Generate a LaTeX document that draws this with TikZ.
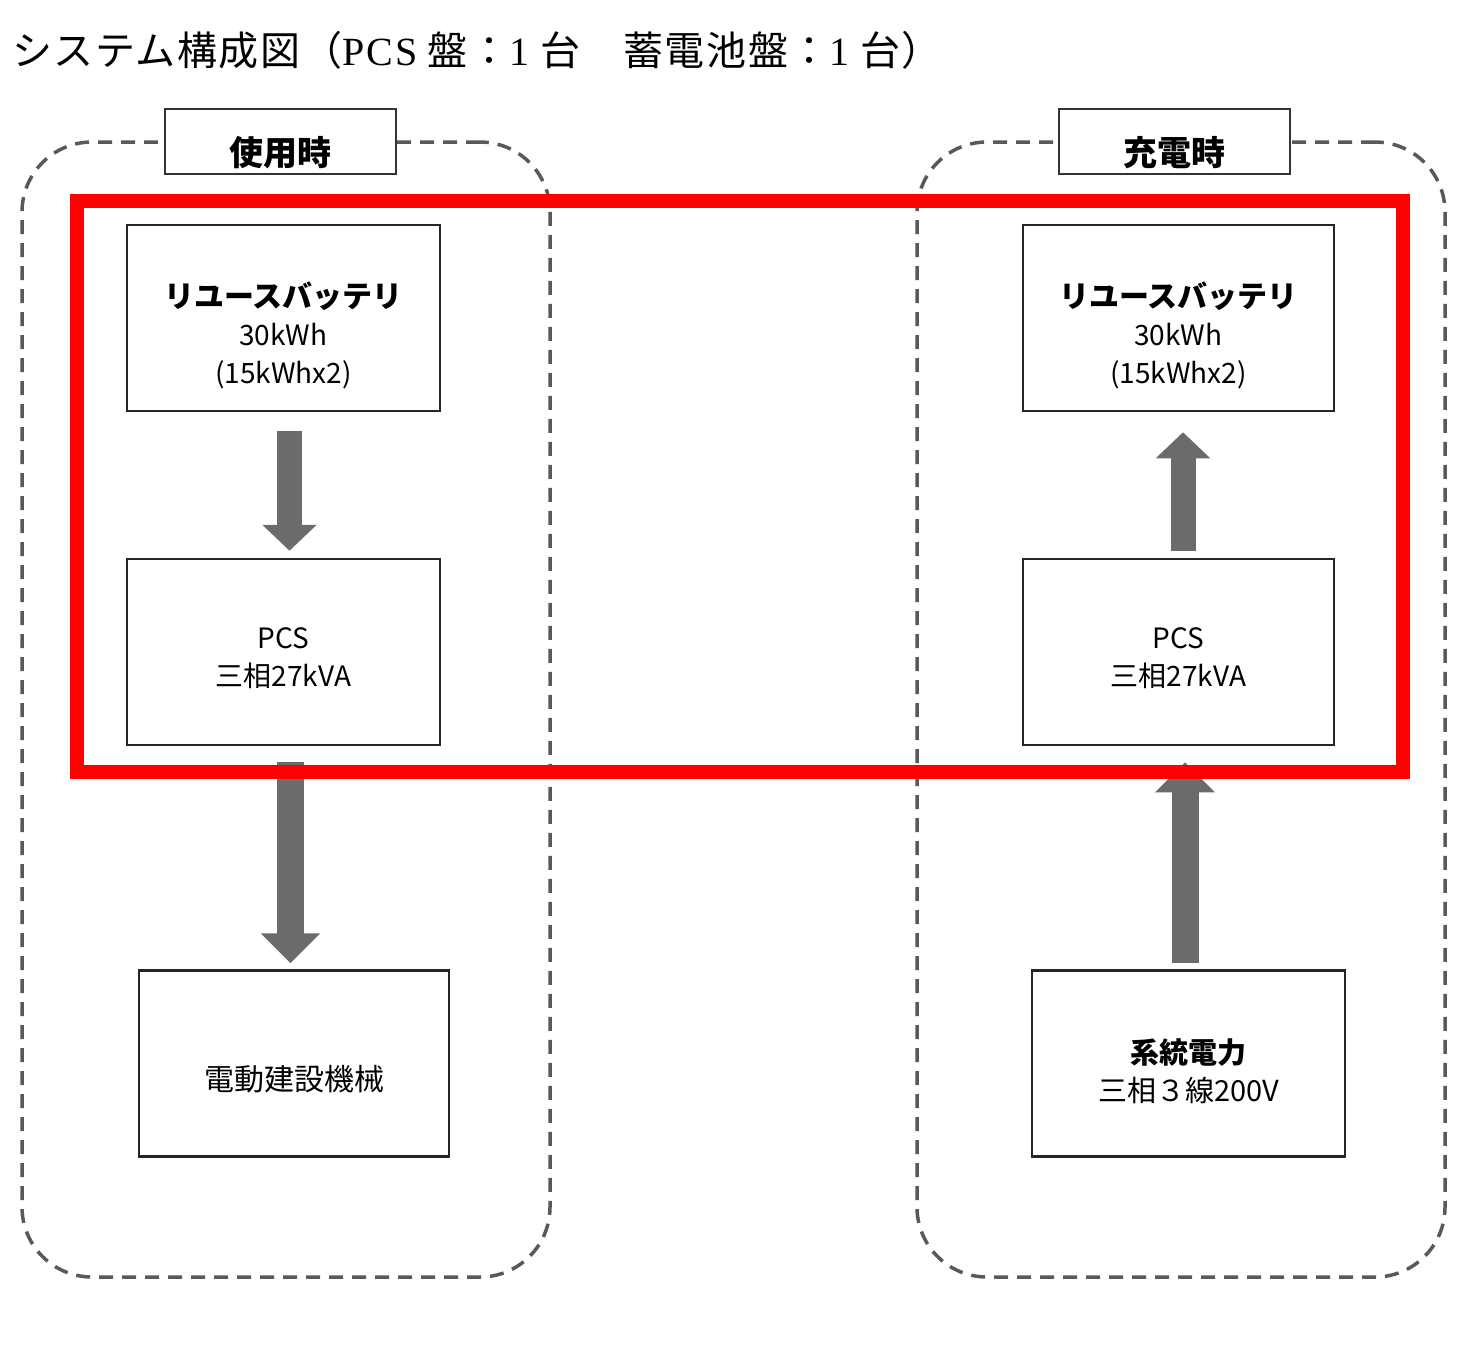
\documentclass[tikz,border=0pt]{standalone}
\usepackage{fontspec}
\setmainfont{Noto Sans CJK JP}
\newfontfamily\serifl[LetterSpace=5]{Liberation Serif}
\usetikzlibrary{arrows.meta}
\newcommand{\topgap}[1]{\rule{0pt}{#1}}
\begin{document}
\begin{tikzpicture}[x=1pt,y=-1pt,
  box/.style={draw=black!85, line width=2.5pt, fill=white, minimum width=313pt, minimum height=186pt, inner sep=0pt, align=center, font=\fontsize{28}{38}\selectfont},
  grp/.style={draw=black!65, line width=3.5pt, dash pattern=on 14pt off 9pt, rounded corners=70pt, minimum width=528pt, minimum height=1135pt, inner sep=0pt},
  lbl/.style={draw=black!80, line width=2pt, fill=white, minimum width=231pt, minimum height=65pt, inner sep=0pt, font=\fontsize{34}{34}\selectfont\bfseries},
  flowa/.style={line width=25pt, draw=black!58, -{Triangle[width=53pt,length=26pt]}},
  flowb/.style={line width=27pt, draw=black!58, -{Triangle[width=58pt,length=30pt]}},
  redframe/.style={draw=red, line width=14pt, minimum width=1326pt, minimum height=571pt, inner sep=0pt}]
\useasboundingbox (0,0) rectangle (1464,1350);

% title
\node[anchor=west, inner sep=0pt, font=\fontsize{40}{40}\selectfont\addfontfeatures{LetterSpace=4}] (title) at (12,50)
  {システム構成図（{\serifl PCS} 盤：{\serifl 1} 台　蓄電池盤：{\serifl 1} 台）};

% groups
\node[grp] (lgrp) at (286,709.5) {};
\node[grp] (rgrp) at (1181,709.5) {};
\node[lbl] (luse) at (280,141.5) {\topgap{52pt}使用時};
\node[lbl] (rchg) at (1174.5,141.5) {\topgap{52pt}充電時};

% left column
\node[box] (lbat) at (283.5,318) {\topgap{60pt}{\fontsize{30}{38}\selectfont\bfseries リユースバッテリ}\\30kWh\\(15kWhx2)};
\node[box] (lpcs) at (283.5,652) {\topgap{33pt}PCS\\三相27kVA};
\node[box, minimum width=310pt, font=\fontsize{30}{38}\selectfont] (lmach) at (294,1063.5) {\topgap{56pt}電動建設機械};

% right column
\node[box, minimum width=311pt] (rbat) at (1178.5,318) {\topgap{60pt}{\fontsize{30}{38}\selectfont\bfseries リユースバッテリ}\\30kWh\\(15kWhx2)};
\node[box, minimum width=311pt] (rpcs) at (1178.5,652) {\topgap{33pt}PCS\\三相27kVA};
\node[box, font=\fontsize{29}{38}\selectfont] (rgrid) at (1188.5,1063.5) {\topgap{40pt}{\bfseries 系統電力}\\三相３線200V};

% flows
\draw[flowa, shorten <=19pt, shorten >=7pt] ([xshift=6pt]lbat.south) -- ([xshift=6pt]lpcs.north);
\draw[flowb, shorten <=16pt, shorten >=6pt] ([xshift=7pt]lpcs.south) -- ([xshift=-3.5pt]lmach.north);
\draw[flowa, shorten <=7pt, shorten >=20pt] ([xshift=4.5pt]rpcs.north) -- ([xshift=4.5pt]rbat.south);
\draw[flowb, shorten <=6pt, shorten >=16pt] ([xshift=-3.5pt]rgrid.north) -- ([xshift=6.5pt]rpcs.south);

% highlight frame
\node[redframe] (hl) at (740,486.5) {};
\end{tikzpicture}
\end{document}
